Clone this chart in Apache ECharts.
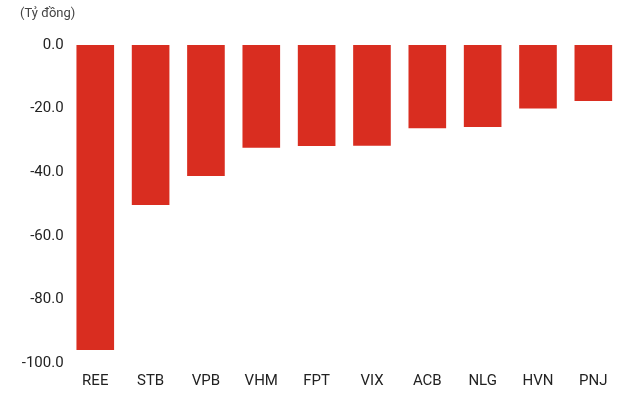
<!DOCTYPE html>
<html><head><meta charset="utf-8">
<script src="https://cdn.jsdelivr.net/npm/echarts@6/dist/echarts.min.js"></script>
<style>html,body{margin:0;padding:0;background:#fff}#c{width:621px;height:399px}</style>
</head><body><div id="c"></div>
<script>
const categories = ['REE','STB','VPB','VHM','FPT','VIX','ACB','NLG','HVN','PNJ'];
const values = [-95.9,-50.3,-41.2,-32.3,-31.8,-31.7,-26.2,-25.8,-20.0,-17.6];
const unitLabel = '(Tỷ đồng)';
const chart = echarts.init(document.getElementById('c'), null, {renderer:'canvas'});
chart.setOption({
  animation:false,
  title:{text:unitLabel,left:15,top:2,textStyle:{fontSize:13,fontWeight:'normal',color:'#444',fontFamily:'Roboto'}},
  grid:{left:67.6,width:557,top:45,height:318,containLabel:false},
  xAxis:{type:'category',data:categories,position:'bottom',
    axisLine:{show:false},axisTick:{show:false},
    axisLabel:{color:'#222',fontSize:15,fontFamily:'Roboto',margin:11,interval:0}},
  yAxis:{type:'value',min:-100,max:0,interval:20,
    axisLine:{show:false},axisTick:{show:false},splitLine:{show:false},
    axisLabel:{color:'#222',fontSize:15,fontFamily:'Roboto',margin:4,formatter:v=>v.toFixed(1)}},
  series:[{type:'bar',data:values,barWidth:'68%',itemStyle:{color:'#d92d20'}}]
});
</script></body></html>
